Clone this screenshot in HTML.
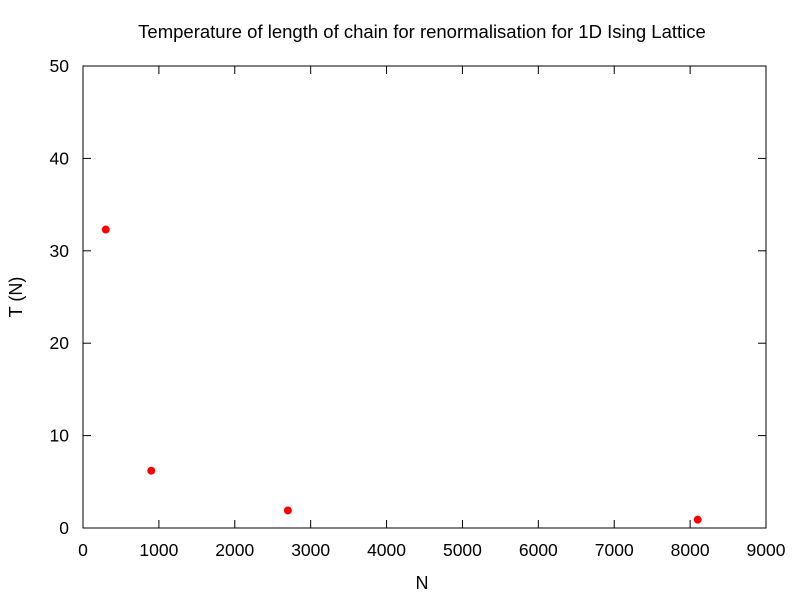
<!DOCTYPE html>
<html><head><meta charset="utf-8"><style>
body{margin:0;background:#fff}
svg{display:block;font-family:"Liberation Sans",sans-serif}
</style></head><body>
<svg id="chart" width="800" height="600" viewBox="0 0 800 600">
<text x="422" y="38" text-anchor="middle" font-size="18.5">Temperature of length of chain for renormalisation for 1D Ising Lattice</text>
<text x="422" y="589" text-anchor="middle" font-size="18">N</text>
<text x="22" y="297" text-anchor="middle" font-size="18" transform="rotate(-90 22 297)">T (N)</text>
<rect x="83" y="66" width="683" height="462" fill="none" stroke="#000" stroke-width="1"/>
<g id="axes"></g>
<g id="points"></g>
</svg>
<script>
const xValues = [300, 900, 2700, 8100];
const yValues = [32.3, 6.2, 1.9, 0.9];
const xTicks = [0,1000,2000,3000,4000,5000,6000,7000,8000,9000];
const yTicks = [0,10,20,30,40,50];
const X0=83,X1=766,Y0=528,Y1=66,XMAX=9000,YMAX=50;
const sx=v=>X0+(v/XMAX)*(X1-X0);
const sy=v=>Y0-(v/YMAX)*(Y0-Y1);
const NS="http://www.w3.org/2000/svg";
const axes=document.getElementById('axes'), pts=document.getElementById('points');
function mk(t,a){const e=document.createElementNS(NS,t);for(const k in a)e.setAttribute(k,a[k]);return e;}
xTicks.forEach(v=>{
  const x=sx(v);
  const t1=mk('line',{x1:x,y1:Y0,x2:x,y2:Y0-8,stroke:'#000'});
  
  
  axes.appendChild(t1);
  const t2=mk('line',{x1:x,y1:Y1,x2:x,y2:Y1+8,stroke:'#000'});
  
  
  axes.appendChild(t2);
  const l=mk('text',{x:x,y:556,'text-anchor':'middle','font-size':'17.5'});
  l.textContent=v;
  
  
  axes.appendChild(l);
});
yTicks.forEach(v=>{
  const y=sy(v);
  const t1=mk('line',{x1:X0,y1:y,x2:X0+8,y2:y,stroke:'#000'});
  
  
  axes.appendChild(t1);
  const t2=mk('line',{x1:X1,y1:y,x2:X1-8,y2:y,stroke:'#000'});
  
  
  axes.appendChild(t2);
  const l=mk('text',{x:69,y:y+6,'text-anchor':'end','font-size':'17.5'});
  l.textContent=v;
  
  
  axes.appendChild(l);
});
xValues.forEach((v,i)=>{
  const c=mk('circle',{cx:sx(v),cy:sy(yValues[i]),r:4,fill:'#f00'});
  
  
  pts.appendChild(c);
});
</script>
</body></html>
